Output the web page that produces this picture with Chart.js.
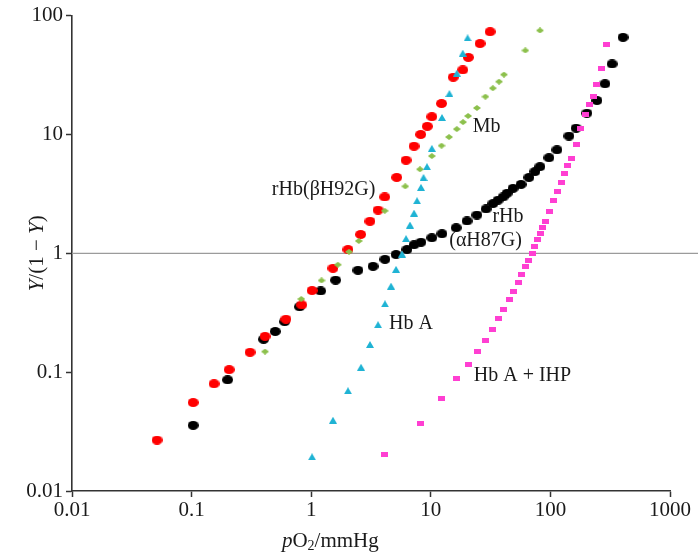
<!DOCTYPE html>
<html>
<head>
<meta charset="utf-8">
<script src="https://cdn.jsdelivr.net/npm/chart.js@4/dist/chart.umd.min.js"></script>
<style>
html,body{margin:0;padding:0;background:#fff;}
#wrap{width:698px;height:552px;}
</style>
</head>
<body>
<div id="wrap"><canvas id="c" width="698" height="552"></canvas></div>
<script>
// ---- Data ----
const xTickValues = [0.01, 0.1, 1, 10, 100, 1000];
const xTickLabels = ['0.01', '0.1', '1', '10', '100', '1000'];
const yTickValues = [0.01, 0.1, 1, 10, 100];
const yTickLabels = ['0.01', '0.1', '1', '10', '100'];

// rHb(αH87G) – black
const rHbAlphaX = [0.103, 0.2, 0.4, 0.5, 0.6, 0.8, 1.2, 1.6, 2.46, 3.29, 4.14, 5.12, 6.32, 7.24, 8.28, 10.2, 12.4, 16.3, 20.1, 24.3, 29.0, 33.1, 36.5, 40.2, 43.4, 48.7, 56.8, 66.2, 74.3, 81.8, 97.3, 113.5, 143, 164, 202, 245, 286, 328, 405];
const rHbAlphaY = [0.0357, 0.0861, 0.189, 0.220, 0.266, 0.355, 0.482, 0.594, 0.720, 0.777, 0.889, 0.977, 1.076, 1.18, 1.24, 1.35, 1.46, 1.64, 1.87, 2.10, 2.36, 2.62, 2.80, 2.98, 3.20, 3.52, 3.80, 4.35, 4.87, 5.36, 6.37, 7.42, 9.70, 11.3, 15.1, 19.3, 26.7, 39.2, 65.6];

// rHb(βH92G) – red
const rHbBetaX = [0.0514, 0.103, 0.154, 0.206, 0.308, 0.411, 0.615, 0.834, 1.016, 1.52, 2.03, 2.59, 3.10, 3.62, 4.12, 5.19, 6.21, 7.24, 8.24, 9.35, 10.2, 12.3, 15.4, 18.5, 20.6, 25.8, 31.3];
const rHbBetaY = [0.0268, 0.0555, 0.0798, 0.105, 0.147, 0.200, 0.279, 0.368, 0.486, 0.748, 1.076, 1.44, 1.86, 2.31, 2.98, 4.35, 6.07, 7.96, 10.0, 11.7, 14.1, 18.2, 30.3, 34.9, 44.5, 58.2, 73.2];

// Mb – green
const mbX = [0.411, 0.826, 1.22, 1.67, 2.07, 2.50, 4.12, 6.12, 8.12, 10.2, 12.3, 14.2, 16.5, 18.6, 20.5, 24.3, 28.6, 33.0, 37.2, 40.9, 61.7, 81.8];
const mbY = [0.149, 0.413, 0.591, 0.802, 1.03, 1.27, 2.28, 3.66, 5.09, 6.58, 8.05, 9.51, 11.1, 12.7, 14.3, 16.7, 20.8, 24.5, 27.8, 31.9, 50.9, 75.0];

// Hb A – cyan
const hbAX = [1.016, 1.52, 2.03, 2.61, 3.10, 3.62, 4.14, 4.65, 5.12, 5.74, 6.21, 6.70, 7.24, 7.67, 8.28, 8.69, 9.29, 10.2, 12.4, 14.3, 16.5, 18.5, 20.3];
const hbAY = [0.0194, 0.0394, 0.0698, 0.110, 0.171, 0.251, 0.376, 0.530, 0.733, 0.986, 1.33, 1.73, 2.18, 2.77, 3.59, 4.35, 5.36, 7.64, 13.9, 22.1, 32.8, 48.3, 65.0];

// Hb A + IHP – magenta
const hbAIhpX = [4.09, 8.17, 12.4, 16.4, 20.5, 24.7, 28.8, 32.7, 37.0, 40.9, 45.1, 49.2, 53.6, 57.6, 61.7, 65.9, 70.2, 73.9, 77.8, 83.0, 86.3, 90.2, 97.9, 107, 114, 123, 131, 138, 149, 164, 180, 196, 212, 228, 244, 268, 296];
const hbAIhpY = [0.0202, 0.0369, 0.0605, 0.0879, 0.116, 0.149, 0.184, 0.229, 0.282, 0.338, 0.408, 0.479, 0.569, 0.658, 0.773, 0.877, 0.995, 1.15, 1.31, 1.46, 1.64, 1.84, 2.25, 2.76, 3.34, 3.95, 4.69, 5.43, 6.25, 8.21, 11.3, 14.7, 17.9, 21.0, 26.2, 36.1, 57.1];

// In-plot series labels (text and anchor in data units)
const seriesLabelText = ['rHb(βH92G)', 'Mb', 'rHb', '(αH87G)', 'Hb A', 'Hb A + IHP'];
const seriesLabelX = [1.27, 29.3, 44.2, 28.7, 6.83, 58.4];
const seriesLabelY = [3.45, 11.5, 2.02, 1.28, 0.253, 0.093];

const refLineY = 1;

// ---- Styling helpers ----
const SERIF = '"Liberation Serif", "Times New Roman", serif';

function shapeCanvas(w, h, color, draw) {
  const c = document.createElement('canvas');
  c.width = w; c.height = h;
  const g = c.getContext('2d');
  g.fillStyle = color;
  g.beginPath();
  draw(g, w, h);
  g.closePath();
  g.fill();
  return c;
}
const ellipse = (w, h, color) => shapeCanvas(w, h, color, (g, W, H) => g.ellipse(W / 2, H / 2, W / 2, H / 2, 0, 0, Math.PI * 2));
const triangle = (w, h, color) => shapeCanvas(w, h, color, (g, W, H) => { g.moveTo(W / 2, 0); g.lineTo(W, H); g.lineTo(0, H); });
const diamond = (w, h, color) => shapeCanvas(w, h, color, (g, W, H) => { g.moveTo(W / 2, 0); g.lineTo(W, H / 2); g.lineTo(W / 2, H); g.lineTo(0, H / 2); });
const rect = (w, h, color) => shapeCanvas(w, h, color, (g, W, H) => g.rect(0, 0, W, H));

const zip = (xs, ys) => xs.map((x, i) => ({ x: x, y: ys[i] }));

function ds(label, xs, ys, style, order) {
  return {
    label: label,
    data: zip(xs, ys),
    pointStyle: style,
    pointRadius: 5,
    pointHoverRadius: 5,
    showLine: false,
    order: order
  };
}

const datasets = [
  ds('Hb A + IHP', hbAIhpX, hbAIhpY, rect(7, 5, '#ff3fd2'), 1),
  ds('Hb A', hbAX, hbAY, triangle(8, 7, '#1fb3d4'), 2),
  ds('Mb', mbX, mbY, diamond(8, 6, '#8cc04c'), 3),
  ds('rHb(βH92G)', rHbBetaX, rHbBetaY, ellipse(11, 9, '#ff0000'), 4),
  ds('rHb(αH87G)', rHbAlphaX, rHbAlphaY, ellipse(11, 9, '#000000'), 5)
];

function drawRich(ctx, parts, cx, cy) {
  let total = 0;
  parts.forEach(p => { ctx.font = p.font; p.w = ctx.measureText(p.t).width; total += p.w; });
  let x = cx - total / 2;
  ctx.textAlign = 'left';
  ctx.textBaseline = 'middle';
  parts.forEach(p => { ctx.font = p.font; ctx.fillText(p.t, x, cy + (p.dy || 0)); x += p.w; });
}

const decorPlugin = {
  id: 'decor',
  beforeDatasetsDraw(chart) {
    const ctx = chart.ctx, ca = chart.chartArea;
    const y = chart.scales.y.getPixelForValue(refLineY);
    ctx.save();
    ctx.strokeStyle = '#9b9b9b';
    ctx.lineWidth = 1.3;
    ctx.beginPath();
    ctx.moveTo(ca.left, y);
    ctx.lineTo(chart.width, y);
    ctx.stroke();
    ctx.restore();
  },
  afterDatasetsDraw(chart) {
    const ctx = chart.ctx;
    const xs = chart.scales.x, ys = chart.scales.y;
    ctx.save();
    ctx.fillStyle = '#1a1a1a';
    ctx.font = '20px ' + SERIF;
    ctx.textAlign = 'center';
    ctx.textBaseline = 'middle';
    seriesLabelText.forEach((t, i) => {
      ctx.fillText(t, xs.getPixelForValue(seriesLabelX[i]), ys.getPixelForValue(seriesLabelY[i]));
    });
    ctx.restore();
  },
  afterDraw(chart) {
    const ctx = chart.ctx, ca = chart.chartArea;
    const normal = '21px ' + SERIF, italic = 'italic 21px ' + SERIF, small = '14px ' + SERIF;
    ctx.save();
    ctx.fillStyle = '#1a1a1a';
    // x-axis title: pO2/mmHg
    drawRich(ctx, [
      { t: 'p', font: italic },
      { t: 'O', font: normal },
      { t: '2', font: small, dy: 5 },
      { t: '/mmHg', font: normal }
    ], ca.left + (ca.right - ca.left) * 0.432, ca.bottom + 50);
    // y-axis title: Y/(1 − Y)
    ctx.translate(37, (ca.top + ca.bottom) / 2);
    ctx.rotate(-Math.PI / 2);
    drawRich(ctx, [
      { t: 'Y', font: italic },
      { t: '/(1 − ', font: normal },
      { t: 'Y', font: italic },
      { t: ')', font: normal }
    ], 0, 0);
    ctx.restore();
  }
};

function axis(pos, tickValues, tickLabels, min, max, size) {
  return {
    type: 'logarithmic',
    position: pos,
    min: min,
    max: max,
    afterBuildTicks: s => { s.ticks = tickValues.map(v => ({ value: v })); },
    afterFit: s => { if (pos === 'bottom') s.height = size; else s.width = size; },
    ticks: {
      autoSkip: false,
      maxRotation: 0,
      minRotation: 0,
      color: '#1a1a1a',
      font: { family: SERIF, size: 21 },
      padding: pos === 'bottom' ? 1 : 3,
      callback: (v, i) => tickLabels[i]
    },
    grid: {
      drawOnChartArea: false,
      drawTicks: true,
      tickLength: 6,
      tickColor: '#333333',
      tickWidth: 1.5
    },
    border: { display: true, color: '#333333', width: 1.6 },
    title: { display: false }
  };
}

new Chart(document.getElementById('c'), {
  type: 'scatter',
  data: { datasets: datasets },
  options: {
    responsive: false,
    animation: false,
    events: [],
    layout: { autoPadding: false, padding: { top: 9, right: 28, left: 0, bottom: 0 } },
    plugins: { legend: { display: false }, tooltip: { enabled: false } },
    scales: {
      x: axis('bottom', xTickValues, xTickLabels, 0.01, 1000, 61),
      y: axis('left', yTickValues, yTickLabels, 0.01, 100, 72)
    }
  },
  plugins: [decorPlugin]
});
</script>
</body>
</html>
